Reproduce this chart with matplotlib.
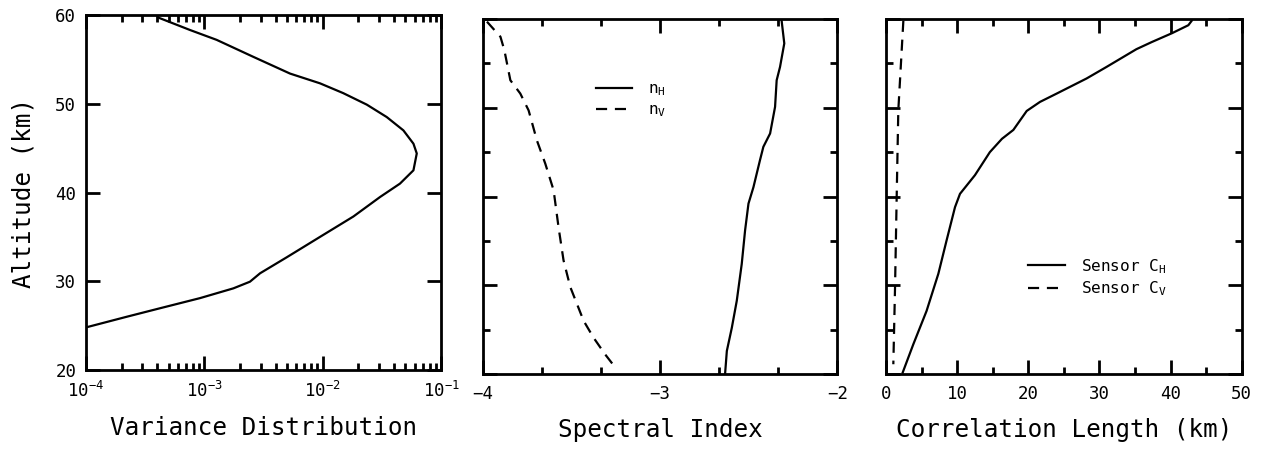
import numpy as np
import matplotlib
matplotlib.use("Agg")
import matplotlib.pyplot as plt
from matplotlib.ticker import MultipleLocator, LogLocator, NullFormatter, FixedLocator

plt.rcParams['font.family'] = ['DejaVu Sans Mono']
plt.rcParams['mathtext.fontset'] = 'custom'
plt.rcParams['mathtext.rm'] = 'DejaVu Sans Mono'
plt.rcParams['mathtext.it'] = 'DejaVu Sans Mono'
plt.rcParams['mathtext.default'] = 'rm'

# variance distribution profile
var_alt = [59.7, 58.3, 57.2, 55.3, 53.4, 52.3, 51.2, 49.9, 48.5, 47.0, 45.5, 44.4,
           42.5, 41.0, 39.5, 37.3, 35.0, 32.7, 30.9, 29.95, 29.2, 28.1, 26.95, 26.0, 24.8]
var_val = [4.1e-4, 7.6e-4, 1.27e-3, 2.58e-3, 5.3e-3, 9.5e-3, 1.49e-2, 2.36e-2, 3.48e-2,
           4.81e-2, 5.85e-2, 6.24e-2, 5.85e-2, 4.5e-2, 3.06e-2, 1.82e-2, 9.5e-3, 4.97e-3,
           2.96e-3, 2.43e-3, 1.76e-3, 9.2e-4, 4.2e-4, 2.21e-4, 1.0e-4]

# spectral indices
nh_alt = [59.8, 57.25, 54.6, 53.1, 50.1, 47.1, 45.6, 44.1, 41.05, 39.2, 36.2, 32.4, 28.25, 25.2, 22.6, 20.0]
nh_val = [-2.314, -2.299, -2.323, -2.342, -2.351, -2.379, -2.417, -2.436, -2.473, -2.501,
          -2.52, -2.539, -2.567, -2.595, -2.623, -2.633]
nv_alt = [59.7, 58.0, 56.5, 53.1, 51.6, 49.7, 46.3, 43.7, 40.7, 36.5, 32.8, 29.8, 26.0, 24.1, 22.2, 20.5]
nv_val = [-3.976, -3.900, -3.878, -3.844, -3.788, -3.741, -3.694, -3.647, -3.6, -3.572,
          -3.544, -3.506, -3.431, -3.375, -3.309, -3.243]

# correlation lengths (km)
ch_alt = [59.8, 59.3, 58.4, 57.4, 56.6, 54.6, 53.3, 51.6, 50.66, 49.64, 47.5, 46.5, 45.0,
          42.4, 40.3, 38.8, 35.0, 31.3, 27.1, 23.35, 20.15]
ch_val = [42.97, 42.5, 40.2, 37.35, 35.2, 31.0, 28.2, 24.0, 21.65, 19.78, 17.9, 16.3, 14.6,
          12.5, 10.4, 9.7, 8.5, 7.36, 5.7, 3.84, 2.34]
cv_alt = [59.8, 49.7, 39.9, 29.75, 21.1]
cv_val = [2.44, 1.73, 1.5, 1.27, 1.03]

W, H = 1263, 451
fig = plt.figure(figsize=(W/100, H/100), dpi=100)

def box(x0, y0, x1, y1):
    return [x0/W, 1 - y1/H, (x1 - x0)/W, (y1 - y0)/H]

ax1 = fig.add_axes(box(86, 15, 441, 370))
ax2 = fig.add_axes(box(482.7, 19, 837.3, 374))
ax3 = fig.add_axes(box(886, 19, 1241.7, 374))

dash = (0, (5, 3.5))
lw = 1.6

for ax in (ax1, ax2, ax3):
    for s in ax.spines.values():
        s.set_linewidth(2.0)
    ax.tick_params(which='both', direction='in', top=True, right=True, width=2.0, labelsize=12.5)
    ax.tick_params(which='major', length=10)
    ax.tick_params(which='minor', length=5)
    ax.tick_params(axis='x', pad=8)
    ax.tick_params(axis='y', pad=7)
    ax.set_ylim(20, 60)

# panel 1
ax1.plot(var_val, var_alt, color='black', lw=lw)
ax1.set_xscale('log')
ax1.set_xlim(1e-4, 1e-1)
ax1.xaxis.set_major_locator(LogLocator(base=10, numticks=10))
ax1.xaxis.set_minor_locator(LogLocator(base=10, subs=np.arange(2, 10), numticks=10))
ax1.xaxis.set_minor_formatter(NullFormatter())
ax1.yaxis.set_major_locator(MultipleLocator(10))
ax1.set_xlabel('Variance Distribution', fontsize=17.5, labelpad=11)
ax1.set_ylabel('Altitude (km)', fontsize=17.5, labelpad=14)

# panel 2
ax2.plot(nh_val, nh_alt, color='black', lw=lw, label=r'n$_\mathrm{H}$')
ax2.plot(nv_val, nv_alt, color='black', lw=lw, linestyle=dash, label=r'n$_\mathrm{V}$')
ax2.set_xlim(-4, -2)
ax2.xaxis.set_major_locator(MultipleLocator(1))
ax2.xaxis.set_minor_locator(FixedLocator(np.linspace(-4, -2, 7)))
ax2.yaxis.set_major_locator(MultipleLocator(10))
ax2.yaxis.set_minor_locator(MultipleLocator(5))
ax2.set_yticklabels([])
ax2.set_xlabel('Spectral Index', fontsize=17.5, labelpad=11)
ax2.legend(loc='upper left', bbox_to_anchor=(0.278, 0.865), frameon=False, fontsize=11.5,
           handlelength=2.3, handletextpad=1.0, labelspacing=0.3)

# panel 3
ax3.plot(ch_val, ch_alt, color='black', lw=lw, label=r'Sensor C$_\mathrm{H}$')
ax3.plot(cv_val, cv_alt, color='black', lw=lw, linestyle=dash, label=r'Sensor C$_\mathrm{V}$')
ax3.set_xlim(0, 50)
ax3.xaxis.set_major_locator(MultipleLocator(10))
ax3.xaxis.set_minor_locator(MultipleLocator(5))
ax3.yaxis.set_major_locator(MultipleLocator(10))
ax3.yaxis.set_minor_locator(MultipleLocator(5))
ax3.set_yticklabels([])
ax3.set_xlabel('Correlation Length (km)', fontsize=17.5, labelpad=11)
ax3.legend(loc='upper left', bbox_to_anchor=(0.36, 0.37), frameon=False, fontsize=11.5,
           handlelength=2.3, handletextpad=1.0, labelspacing=0.25)

fig.savefig('out.png', dpi=100)
